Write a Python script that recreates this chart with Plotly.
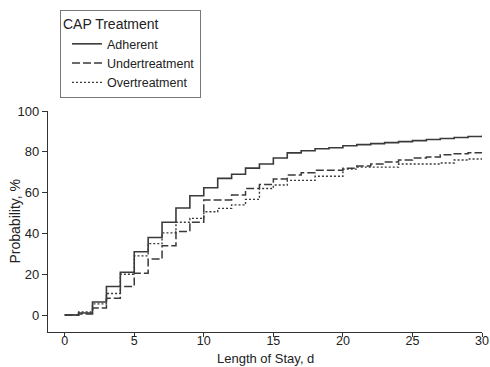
import plotly.graph_objects as go

days = list(range(0, 31))
adherent = [0, 1, 6.4, 14, 21, 31, 38, 45.5, 52.5, 58.5, 62.4, 67, 69, 72, 74, 77,
            79.5, 80.5, 81.5, 82, 83, 83.5, 84, 84.5, 85, 85.5, 86, 86.5, 87, 87.5, 88]
undertreatment = [0, 0.5, 3.4, 8.3, 14, 20.5, 27.5, 34, 41, 45.5, 56.4, 56.4, 58.8, 62, 64, 66.7,
                  68.6, 69.8, 71, 71, 72, 73, 74, 75, 76, 77, 77.5, 78.5, 79, 79.5, 79.5]
overtreatment = [0, 1.5, 5.5, 10.6, 20, 29, 35, 40.3, 45.5, 47.4, 50.6, 52.3, 54, 56.7, 62, 63.7,
                 66, 66, 68, 68, 71.5, 72.5, 72.5, 72.5, 74, 74, 74, 74.5, 76, 76.5, 76.5]

x_ticks = [0, 5, 10, 15, 20, 25, 30]
y_ticks = [0, 20, 40, 60, 80, 100]

FONT = "Liberation Sans Narrow, Arial Narrow, Liberation Sans, Arial, sans-serif"
LINE = "#3a3a3a"

fig = go.Figure()
fig.add_trace(go.Scatter(x=days, y=adherent, mode="lines", name="Adherent",
                         line=dict(shape="hv", color=LINE, width=1.6, dash="solid")))
fig.add_trace(go.Scatter(x=days, y=undertreatment, mode="lines", name="Undertreatment",
                         line=dict(shape="hv", color=LINE, width=1.5, dash="8px,3px")))
fig.add_trace(go.Scatter(x=days, y=overtreatment, mode="lines", name="Overtreatment",
                         line=dict(shape="hv", color=LINE, width=1.4, dash="2px,2px")))

fig.update_layout(
    width=490, height=367,
    margin=dict(l=48, r=8, t=111, b=35),
    paper_bgcolor="white", plot_bgcolor="white",
    font=dict(family=FONT, size=13, color="#222"),
    showlegend=True,
    legend=dict(
        title=dict(text="CAP Treatment", font=dict(size=14, family=FONT, color="#222")),
        x=0.0276, y=1.457, xanchor="left", yanchor="top",
        bordercolor="#777", borderwidth=1, bgcolor="white",
        font=dict(size=12.5, family=FONT, color="#222"),
        itemwidth=30, tracegroupgap=0, indentation=6,
    ),
    xaxis=dict(
        range=[-1.2, 30], tickmode="array", tickvals=x_ticks, automargin=False,
        showline=True, linecolor="#333", linewidth=1.2, mirror=False,
        ticks="outside", ticklen=4, tickcolor="#333", showgrid=False, zeroline=False,
        tickfont=dict(size=12.5, family=FONT, color="#222"), ticklabelstandoff=-7,
    ),
    yaxis=dict(
        range=[-8.3, 100], tickmode="array", tickvals=y_ticks, automargin=False,
        showline=True, linecolor="#333", linewidth=1.2, mirror=False,
        ticks="outside", ticklen=5, tickcolor="#333", showgrid=False, zeroline=False,
        tickfont=dict(size=13, family=FONT, color="#222"),
    ),
    annotations=[
        dict(text="Length of Stay, d", xref="paper", yref="paper", x=0.5, y=-0.122,
             xanchor="center", yanchor="middle", showarrow=False,
             font=dict(size=13, family=FONT, color="#222")),
        dict(text="Probability, %", xref="paper", yref="paper", x=-0.0783, y=0.5,
             xanchor="center", yanchor="middle", textangle=-90, showarrow=False,
             font=dict(size=14, family=FONT, color="#222")),
    ],
)

fig.write_html("out.html")
